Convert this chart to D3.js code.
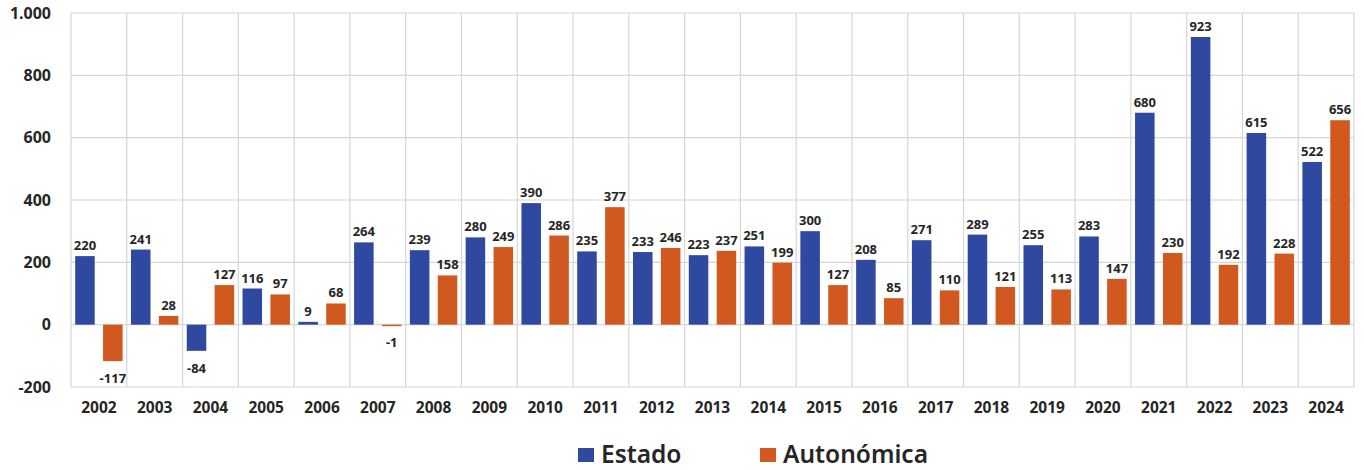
<!DOCTYPE html>
<html>
<head>
<meta charset="utf-8">
<script src="https://cdn.jsdelivr.net/npm/d3@7"></script>
<style>
	body { margin: 0; background: #ffffff; }
	text { font-family: "Noto Sans", "Open Sans", sans-serif; }
</style>
</head>
<body>
<div id="chartContainer"></div>
<script>
let g_years = ["2002", "2003", "2004", "2005", "2006", "2007", "2008", "2009", "2010", "2011", "2012", "2013",
	"2014", "2015", "2016", "2017", "2018", "2019", "2020", "2021", "2022", "2023", "2024"];
let g_estado = [220, 241, -84, 116, 9, 264, 239, 280, 390, 235, 233, 223, 251, 300, 208, 271, 289, 255, 283, 680, 923, 615, 522];
let g_autonomica = [-117, 28, 127, 97, 68, -1, 158, 249, 286, 377, 246, 237, 199, 127, 85, 110, 121, 113, 147, 230, 192, 228, 656];
let g_seriesNames = ["Estado", "Autonómica"];
let g_seriesColors = ["#2f48a0", "#d1581f"];
let g_yTicks = [-200, 0, 200, 400, 600, 800, 1000];

function formatThousands(d){
	// Spanish style: dot as thousands separator, plain hyphen for negatives
	let s = String(Math.abs(d)).replace(/\B(?=(\d{3})+(?!\d))/g, ".");
	return (d < 0 ? "-" : "") + s;
}

function initializeBarChart(){

	let width = 1364, height = 470;
	let left = 71, right = 1354, top = 13, bottom = 387;

	let svg = d3.select("#chartContainer")
		.append("svg")
		.attr("width", width)
		.attr("height", height);

	let xScale = d3.scaleBand()
		.domain(g_years)
		.range([left, right]);

	let seriesScale = d3.scaleBand()
		.domain(g_seriesNames)
		.range([0, xScale.bandwidth()])
		.paddingInner(0.3)
		.paddingOuter(0.15);

	let yScale = d3.scaleLinear()
		.domain([-200, 1000])
		.range([bottom, top]);

	// horizontal grid
	svg.append("g")
		.selectAll("line")
		.data(g_yTicks)
		.join("line")
		.attr("x1", left)
		.attr("x2", right)
		.attr("y1", d => yScale(d))
		.attr("y2", d => yScale(d))
		.attr("stroke", "#d6d6d6")
		.attr("stroke-width", 1.2);

	// vertical grid at category edges
	let edges = g_years.map(d => xScale(d)).concat([right]);
	svg.append("g")
		.selectAll("line")
		.data(edges)
		.join("line")
		.attr("x1", d => d)
		.attr("x2", d => d)
		.attr("y1", top)
		.attr("y2", bottom)
		.attr("stroke", "#d6d6d6")
		.attr("stroke-width", 1.2);

	let yAxis = svg.append("g")
		.attr("transform", "translate(" + (left - 17) + ",0)")
		.call(d3.axisLeft(yScale)
			.tickValues(g_yTicks)
			.tickSize(0)
			.tickFormat(formatThousands));
	yAxis.select(".domain").remove();
	yAxis.selectAll("text")
		.attr("font-size", 16)
		.attr("font-weight", 700)
		.attr("fill", "#262626");

	let xAxis = svg.append("g")
		.attr("transform", "translate(0," + (bottom + 12) + ")")
		.call(d3.axisBottom(xScale).tickSize(0));
	xAxis.select(".domain").remove();
	xAxis.selectAll("text")
		.attr("font-size", 15.5)
		.attr("font-weight", 700)
		.attr("fill", "#262626");

	let seriesData = [g_estado, g_autonomica];

	g_seriesNames.forEach(function(name, i){
		let values = seriesData[i];
		let group = svg.append("g");

		group.selectAll("rect")
			.data(values)
			.join("rect")
			.attr("x", (d, j) => xScale(g_years[j]) + seriesScale(name))
			.attr("width", seriesScale.bandwidth())
			.attr("y", d => yScale(Math.max(0, d)))
			.attr("height", d => Math.max(1.5, Math.abs(yScale(d) - yScale(0))))
			.attr("fill", g_seriesColors[i]);

		group.selectAll("text")
			.data(values)
			.join("text")
			.attr("x", (d, j) => xScale(g_years[j]) + seriesScale(name) + seriesScale.bandwidth() / 2)
			.attr("y", d => d >= 0 ? yScale(d) - 6 : yScale(d) + 22)
			.attr("text-anchor", "middle")
			.attr("font-size", 13)
			.attr("font-weight", 700)
			.attr("fill", "#262626")
			.text(d => formatThousands(d));
	});

	// legend
	let legendItems = [{x: 578, name: g_seriesNames[0], color: g_seriesColors[0]},
		{x: 760, name: g_seriesNames[1], color: g_seriesColors[1]}];

	let legend = svg.append("g")
		.selectAll("g")
		.data(legendItems)
		.join("g")
		.attr("transform", d => "translate(" + d.x + ",455)");

	legend.append("rect")
		.attr("x", 0)
		.attr("y", -7)
		.attr("width", 16)
		.attr("height", 14)
		.attr("fill", d => d.color);

	legend.append("text")
		.attr("x", 23)
		.attr("y", 8)
		.attr("font-size", 24.5)
		.attr("font-weight", 600)
		.attr("fill", "#262626")
		.text(d => d.name);
}

initializeBarChart();
</script>
</body>
</html>
